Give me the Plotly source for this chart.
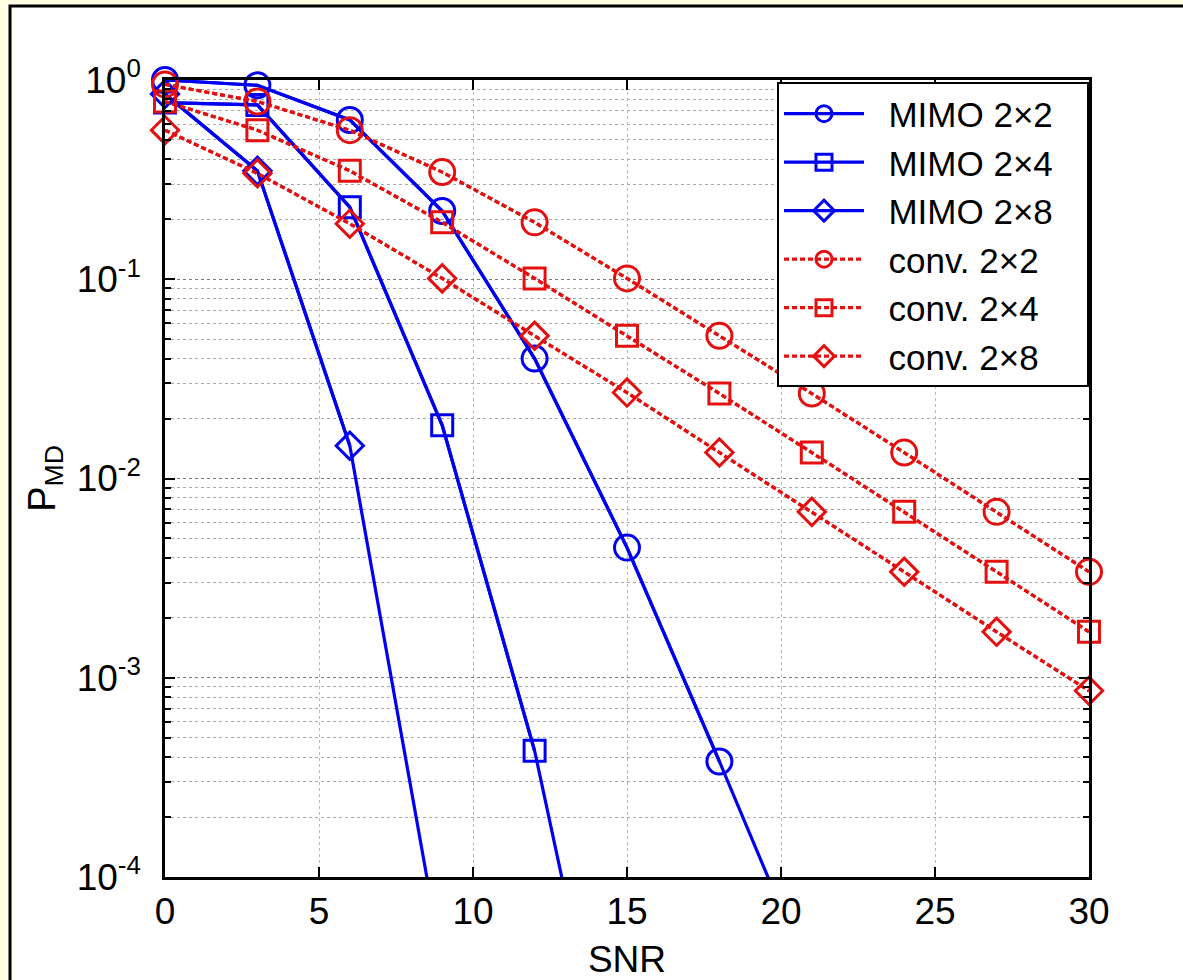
import plotly.graph_objects as go

# ---- data ----
snr_mimo22 = [0, 3, 6, 9, 12, 15, 18, 21]
pmd_mimo22 = [1.0, 0.94, 0.63, 0.22, 0.040, 0.0045, 0.00038, 0.00003]
snr_mimo24 = [0, 3, 6, 9, 12, 15]
pmd_mimo24 = [0.77, 0.75, 0.23, 0.0185, 0.00043, 0.000003]
snr_mimo28 = [0, 3, 6, 9]
pmd_mimo28 = [0.85, 0.35, 0.0146, 0.000037]
snr_conv = [0, 3, 6, 9, 12, 15, 18, 21, 24, 27, 30]
pmd_conv22 = [0.95, 0.78, 0.56, 0.345, 0.193, 0.101, 0.052, 0.0267, 0.0135, 0.0068, 0.0034]
pmd_conv24 = [0.78, 0.56, 0.35, 0.193, 0.101, 0.052, 0.0267, 0.0135, 0.0068, 0.0034, 0.0017]
pmd_conv28 = [0.56, 0.34, 0.19, 0.101, 0.052, 0.027, 0.0135, 0.0068, 0.0034, 0.0017, 0.00086]

x_ticks = [0, 5, 10, 15, 20, 25, 30]
y_ticks = [1e-4, 1e-3, 1e-2, 1e-1, 1]
y_ticktext = ["10<sup>-4</sup>", "10<sup>-3</sup>", "10<sup>-2</sup>", "10<sup>-1</sup>", "10<sup>0</sup>"]

series = [
    ("MIMO 2×2", snr_mimo22, pmd_mimo22, "circle-open", 25, "blue"),
    ("MIMO 2×4", snr_mimo24, pmd_mimo24, "square-open", 21, "blue"),
    ("MIMO 2×8", snr_mimo28, pmd_mimo28, "diamond-open", 21, "blue"),
    ("conv. 2×2", snr_conv, pmd_conv22, "circle-open", 25, "red"),
    ("conv. 2×4", snr_conv, pmd_conv24, "square-open", 21, "red"),
    ("conv. 2×8", snr_conv, pmd_conv28, "diamond-open", 21, "red"),
]
colors = {"blue": "#0000F0", "red": "#E41010"}
dashes = {"blue": "solid", "red": "5px,3px"}

YMIN = 1e-4
NB = "\u00a0"
fig = go.Figure()
for name, xs, ys, sym, size, c in series:
    col = colors[c]
    # full line (clipped by axes)
    fig.add_trace(go.Scatter(x=xs, y=ys, mode="lines", showlegend=False,
                             line=dict(color=col, width=3.2, dash=dashes[c]),
                             hoverinfo="skip"))
    xi = [x for x, y in zip(xs, ys) if y >= YMIN]
    yi = [y for y in ys if y >= YMIN]
    fig.add_trace(go.Scatter(x=xi, y=yi, mode="lines+markers",
                             name=NB * 2 + name + NB * 3,
                             line=dict(color=col, width=3.2, dash=dashes[c]),
                             marker=dict(symbol=sym, size=size, color=col,
                                         line=dict(color=col, width=3)),
                             cliponaxis=False))

W, H = 1183, 980
L, R, T, B = 165, 94, 80, 103
pw, ph = W - L - R, H - T - B

def px_x(p):
    return (p - L) / pw

def px_y(p):
    return (H - B - p) / ph

font = "Liberation Sans, Arial, sans-serif"
minor_vals = [k * 10.0 ** e for e in range(-4, 0) for k in range(2, 10)]

fig.update_layout(
    width=W, height=H,
    margin=dict(l=L, r=R, t=T, b=B, autoexpand=False),
    paper_bgcolor="#FFFFE4",
    plot_bgcolor="white",
    font=dict(family=font, size=36, color="black"),
    showlegend=True,
    legend=dict(x=1, xanchor="right", y=0.997, yanchor="top",
                bgcolor="white", bordercolor="black", borderwidth=2,
                font=dict(family=font, size=35, color="black"),
                itemwidth=80, tracegroupgap=0),
    shapes=[dict(type="rect", xref="paper", yref="paper",
                 x0=px_x(10), x1=px_x(W + 20), y0=px_y(H + 20), y1=px_y(6),
                 fillcolor="white", line=dict(color="black", width=3),
                 layer="below")],
)

fig.update_xaxes(
    range=[0, 30], tickmode="array", tickvals=x_ticks,
    ticks="inside", ticklen=10, tickwidth=2, tickcolor="black",
    showline=True, linecolor="black", linewidth=2.5, mirror="ticks",
    showgrid=True, gridcolor="#b8b8b8", griddash="dot", gridwidth=1,
    zeroline=False, tickfont=dict(size=37), ticklabelstandoff=0,
    title=dict(text="SNR", font=dict(size=37), standoff=45),
    automargin=False,
)
fig.update_yaxes(
    type="log", range=[-4, 0], tickmode="array", tickvals=y_ticks,
    ticktext=y_ticktext,
    ticks="inside", ticklen=10, tickwidth=2, tickcolor="black",
    showline=True, linecolor="black", linewidth=2.5, mirror="ticks",
    showgrid=True, gridcolor="#7a7a7a", griddash="dot", gridwidth=1,
    zeroline=False, tickfont=dict(size=37), ticklabelstandoff=14,
    minor=dict(tickmode="array", tickvals=minor_vals, ticks="inside",
               ticklen=6, tickwidth=1.5, tickcolor="black",
               showgrid=True, gridcolor="#a8a8a8", griddash="dot", gridwidth=1),
    title=dict(text="P<sub>MD</sub>", font=dict(size=38), standoff=10),
    automargin=False,
)

fig.write_html("out.html", config={"displayModeBar": False},
               post_script="document.body.style.margin='0px';document.body.style.overflow='hidden';")
